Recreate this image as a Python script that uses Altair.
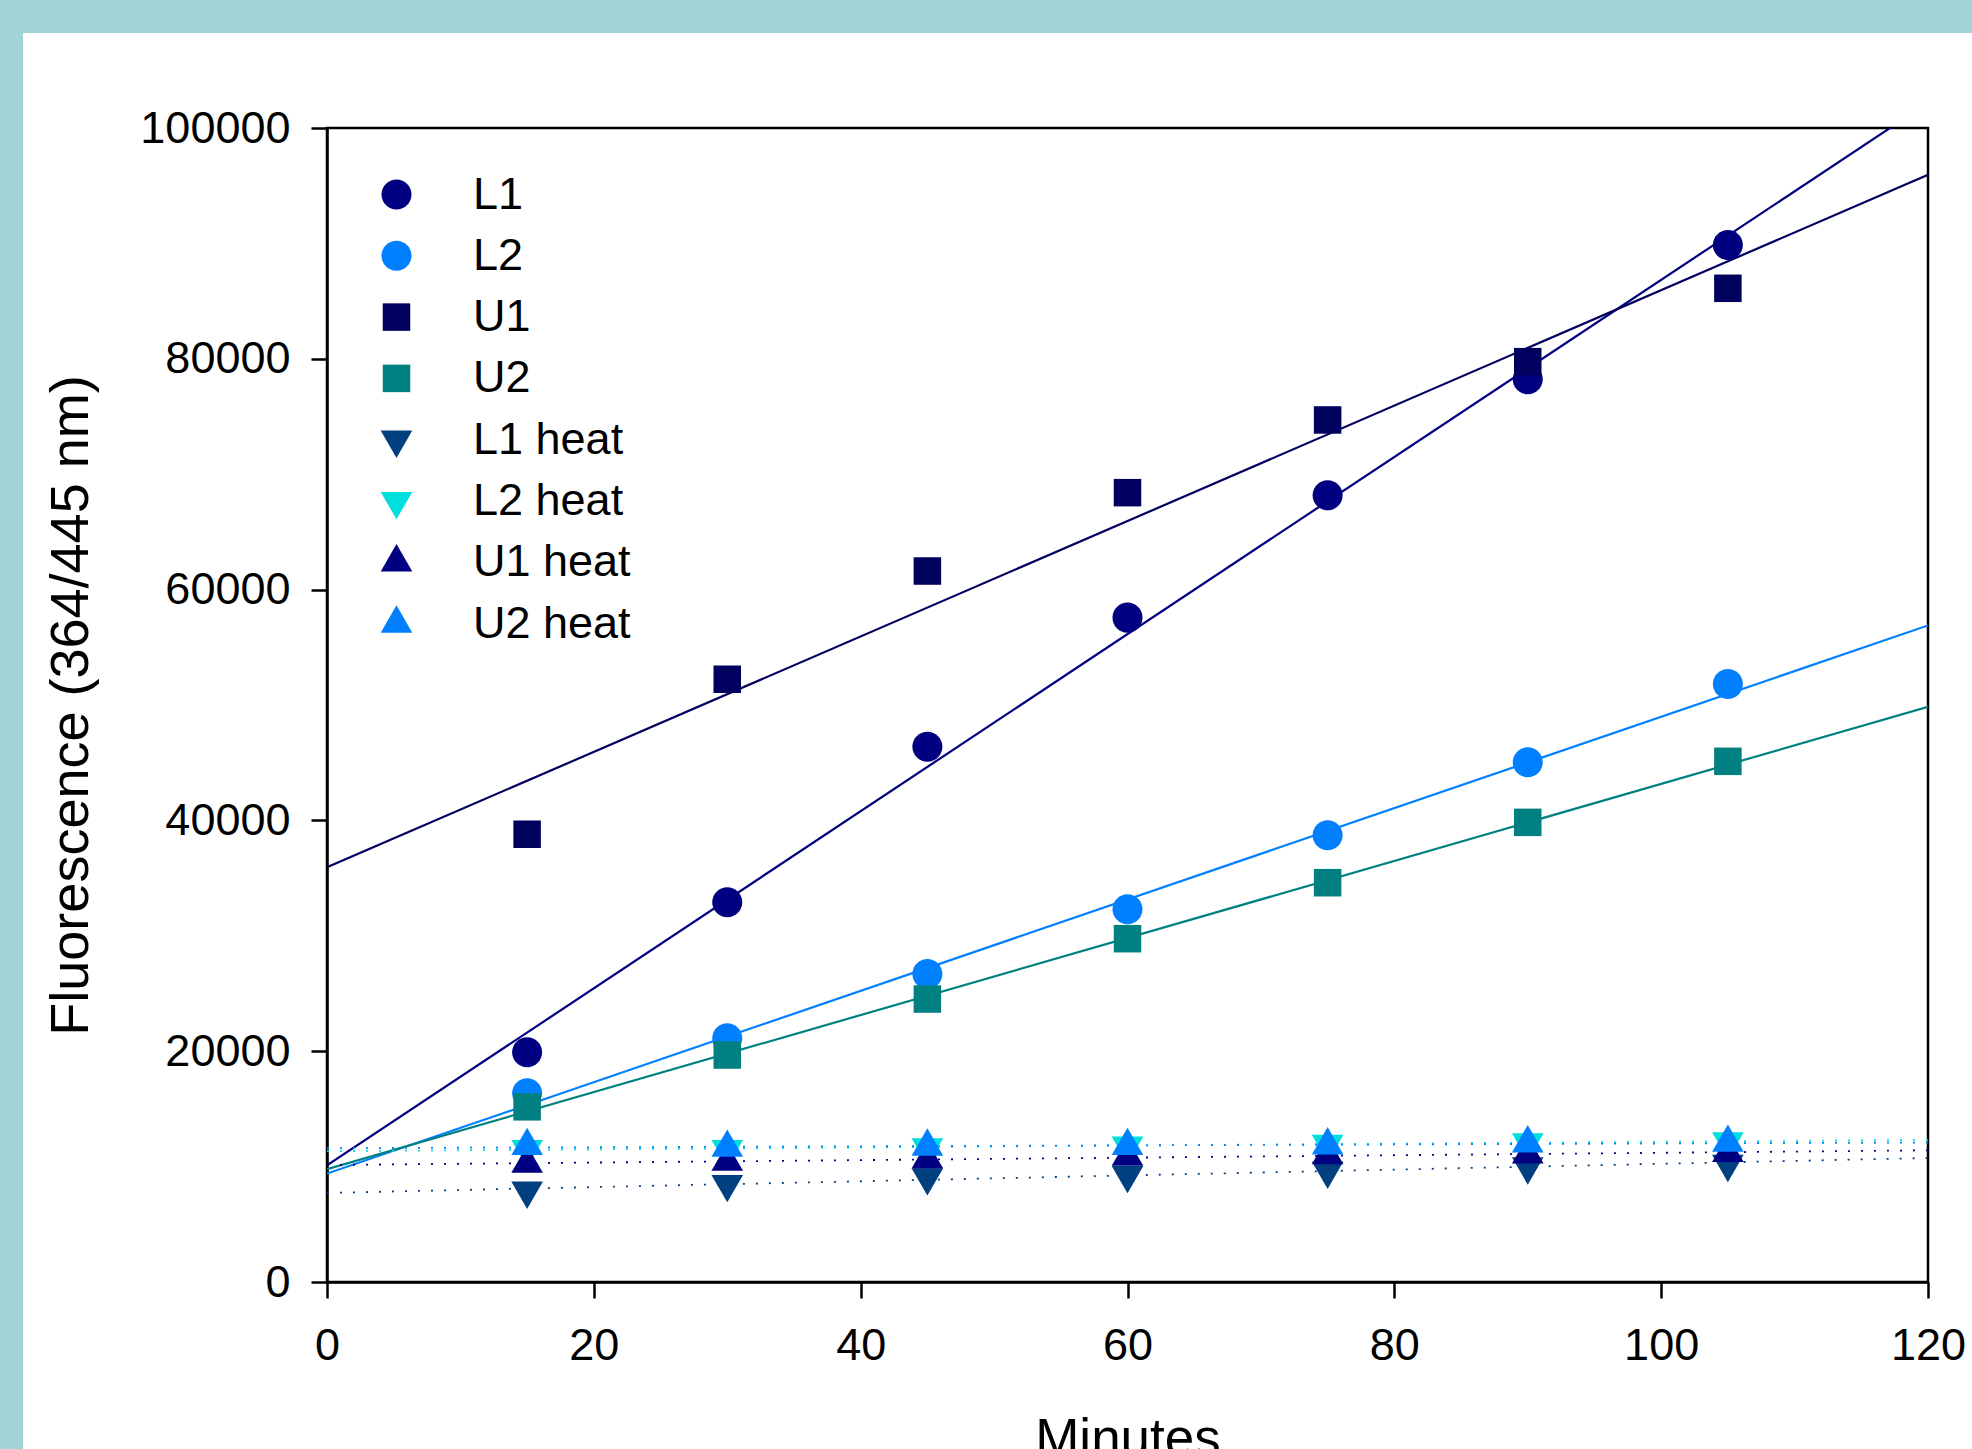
import altair as alt
import pandas as pd

FONT = "Liberation Sans"
TEAL = "#a0d4d7"

# ---- data ----
minutes = [15, 30, 45, 60, 75, 90, 105]
series_names = ["L1", "L2", "U1", "U2", "L1 heat", "L2 heat", "U1 heat", "U2 heat"]
L1 = [19905, 32900, 46390, 57570, 68170, 78220, 89860]
L2 = [16350, 21120, 26690, 32300, 38710, 45030, 51820]
U1 = [38800, 52230, 61610, 68400, 74700, 79750, 86110]
U2 = [15180, 19670, 24520, 29750, 34600, 39830, 45120]
L1_heat = [7910, 8490, 9070, 9270, 9650, 10020, 10230]
L2_heat = [11525, 11525, 11670, 11810, 11960, 12100, 12190]
U1_heat = [10250, 10425, 10630, 10860, 11005, 11065, 11180]
U2_heat = [11785, 11640, 11730, 11785, 11840, 12020, 12070]
series_values = [L1, L2, U1, U2, L1_heat, L2_heat, U1_heat, U2_heat]

series_colors = ["#000080", "#0080ff", "#00005f", "#008080",
                 "#003f80", "#00dede", "#000080", "#0080ff"]
y_ticks = [0, 20000, 40000, 60000, 80000, 100000]
x_ticks = [0, 20, 40, 60, 80, 100, 120]

# symbol shapes (unit paths, centred on the data point)
CIRCLE = "M-0.95,0A0.95,0.95,0,1,1,0.95,0A0.95,0.95,0,1,1,-0.95,0Z"
SQUARE = "M-0.87,-0.87H0.87V0.87H-0.87Z"
TRI_DOWN = "M-1,-0.577L1,-0.577L0,1.155Z"
TRI_UP = "M0,-1.155L1,0.577L-1,0.577Z"
series_shapes = [CIRCLE, CIRCLE, SQUARE, SQUARE, TRI_DOWN, TRI_DOWN, TRI_UP, TRI_UP]

rows = []
for i, (name, vals) in enumerate(zip(series_names, series_values)):
    for m, v in zip(minutes, vals):
        rows.append({"minutes": m, "value": v, "series": name, "ord": i})
df = pd.DataFrame(rows)

W, H = 1601, 1154
PAD = {"left": 327, "top": 128, "right": 44, "bottom": 167}

xs = alt.Scale(domain=[0, 120], nice=False, zero=False)
ys = alt.Scale(domain=[0, 100000], nice=False)

common_axis = dict(grid=False, tickSize=16, tickWidth=2.5, tickColor="black",
                   domainColor="black", domainWidth=2.5, labelFont=FONT,
                   labelFontSize=45, labelColor="black", labelFlush=False,
                   titleFont=FONT, titleFontWeight="normal", titleColor="black")
xaxis = alt.Axis(values=x_ticks, format="d", title="Minutes", labelPadding=25,
                 titleFontSize=53, titleX=W / 2, titleY=173,
                 titleAlign="center", titleBaseline="alphabetic", **common_axis)
yaxis = alt.Axis(values=y_ticks, format="d", title="Fluorescence (364/445 nm)",
                 labelPadding=21, titleFontSize=54, titleX=-240, titleY=H / 2,
                 titleAngle=270, titleAlign="center", titleBaseline="alphabetic",
                 **common_axis)

X = alt.X("minutes:Q", scale=xs, axis=xaxis)
Y = alt.Y("value:Q", scale=ys, axis=yaxis)

one = pd.DataFrame({"k": [0]})
band_top = alt.Chart(one).mark_rect(color=TEAL).encode(
    x=alt.value(-PAD["left"]), x2=alt.value(W + PAD["right"]),
    y=alt.value(-PAD["top"]), y2=alt.value(33 - PAD["top"]))
band_left = alt.Chart(one).mark_rect(color=TEAL).encode(
    x=alt.value(-PAD["left"]), x2=alt.value(23 - PAD["left"]),
    y=alt.value(-PAD["top"]), y2=alt.value(H + PAD["bottom"]))

layers = [band_top, band_left]
for name, col in zip(series_names, series_colors):
    heat = "heat" in name
    mk = dict(color=col, clip=True)
    if heat:
        mk.update(strokeWidth=1.8, strokeDash=[2, 11])
    else:
        mk.update(strokeWidth=2.2)
    layers.append(
        alt.Chart(df).transform_filter(alt.datum.series == name)
        .transform_regression("minutes", "value", extent=[0, 120])
        .mark_line(**mk).encode(x=X, y=Y)
    )

leg = alt.Legend(title=None, orient="none", legendX=47, legendY=44,
                 labelFont=FONT, labelFontSize=45, labelColor="black",
                 symbolSize=1000, symbolStrokeWidth=0, symbolOpacity=1,
                 labelOffset=54, rowPadding=15.3, padding=0, labelLimit=0)

points = alt.Chart(df).mark_point(filled=True, opacity=1, size=1000, strokeWidth=0).encode(
    x=X, y=Y,
    color=alt.Color("series:N", scale=alt.Scale(domain=series_names, range=series_colors), legend=leg),
    shape=alt.Shape("series:N", scale=alt.Scale(domain=series_names, range=series_shapes), legend=leg),
    order=alt.Order("ord:Q"),
)
layers.append(points)

chart = alt.layer(*layers).properties(
    width=W, height=H, padding=PAD, autosize="none", background="white"
).configure_view(stroke="black", strokeWidth=2.5)

chart.save("out.html", embed_options={"renderer": "svg", "actions": False})
